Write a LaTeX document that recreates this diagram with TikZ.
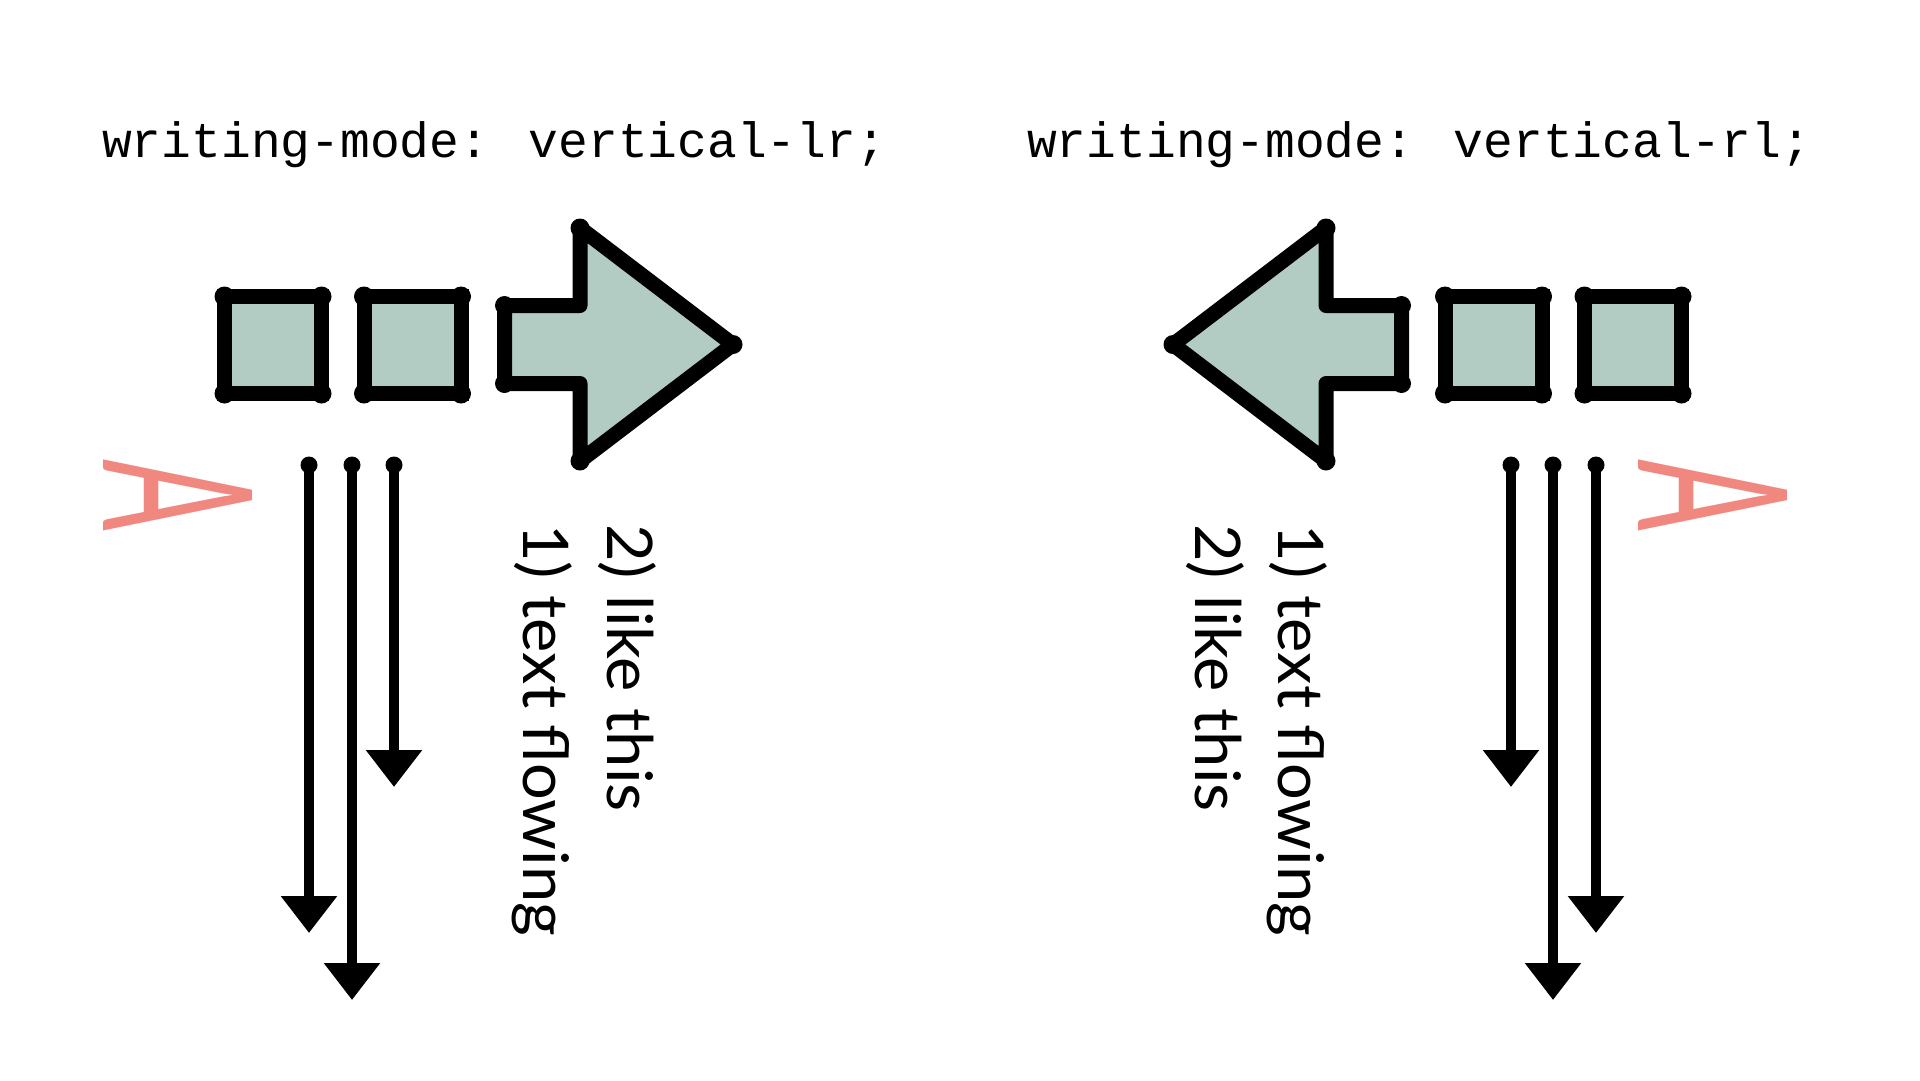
\documentclass[tikz,border=0pt]{standalone}
\usepackage{fontspec}
\setmainfont{Lato}
\newfontfamily\monofont{Liberation Mono}
\usetikzlibrary{arrows.meta}
\definecolor{sage}{RGB}{179,204,195}
\definecolor{salmon}{RGB}{240,136,128}
\begin{document}
\begin{tikzpicture}[x=1pt,y=-1pt,
  box/.style={draw=black, fill=sage, line width=15pt, minimum width=97pt, minimum height=97pt, inner sep=0pt, outer sep=0pt},
  bigarrow/.style={draw=black, fill=sage, line width=15pt, line join=round},
  flow/.style={line width=10pt, -{Triangle[width=54pt,length=37pt]}},
  header/.style={font=\monofont\fontsize{49.6}{60}\selectfont, anchor=base west, inner sep=0pt},
  vtext/.style={font=\fontsize{63}{74}\selectfont, rotate=-90, anchor=base west, inner sep=0pt},
  glyphA/.style={font=\fontsize{208}{240}\selectfont, text=salmon, rotate=-90, inner sep=0pt}
]
\useasboundingbox (0,0) rectangle (1920,1080);

% headers
\node[header] (hl) at (102,157) {writing-mode: vertical-lr;};
\node[header] (hr) at (1027,157) {writing-mode: vertical-rl;};

% left squares
\node[box] (sqA) at (273,345) {};
\node[box] (sqB) at (412.5,345) {};
% right squares
\node[box] (sqC) at (1493.5,345) {};
\node[box] (sqD) at (1633,345) {};
\foreach \s in {sqA,sqB,sqC,sqD}{
  \foreach \a in {north west,north east,south west,south east}{
    \fill (\s.\a) circle[radius=10];
  }
}

% left big arrow
\coordinate (l1) at (504.5,305.5);
\coordinate (l2) at (580,305.5);
\coordinate (l3) at (580,228);
\coordinate (l4) at (733,344.5);
\coordinate (l5) at (580,461);
\coordinate (l6) at (580,383.5);
\coordinate (l7) at (504.5,383.5);
\draw[bigarrow] (l1) -- (l2) -- (l3) -- (l4) -- (l5) -- (l6) -- (l7) -- cycle;
% right big arrow
\coordinate (r1) at (1401.5,305.5);
\coordinate (r2) at (1326,305.5);
\coordinate (r3) at (1326,228);
\coordinate (r4) at (1173,344.5);
\coordinate (r5) at (1326,461);
\coordinate (r6) at (1326,383.5);
\coordinate (r7) at (1401.5,383.5);
\draw[bigarrow] (r1) -- (r2) -- (r3) -- (r4) -- (r5) -- (r6) -- (r7) -- cycle;
\foreach \p in {l1,l3,l4,l5,l7,r1,r3,r4,r5,r7}{\fill (\p) circle[radius=9.5];}

% left flow arrows
\coordinate (a1s) at (309,465); \coordinate (a1e) at (309,933);
\coordinate (a2s) at (352,465); \coordinate (a2e) at (352,1000);
\coordinate (a3s) at (394,465); \coordinate (a3e) at (394,787);
% right flow arrows
\coordinate (b1s) at (1511,465); \coordinate (b1e) at (1511,787);
\coordinate (b2s) at (1553,465); \coordinate (b2e) at (1553,1000);
\coordinate (b3s) at (1596,465); \coordinate (b3e) at (1596,933);
\foreach \n in {a1,a2,a3,b1,b2,b3}{
  \draw[flow] (\n s) -- (\n e);
  \fill (\n s) circle[radius=8.5];
}

% rotated glyphs
\node[glyphA] (gl) at (178.5,495) {\scalebox{0.51}[1]{A}};
\node[glyphA] (gr) at (1713,495) {\scalebox{0.51}[1]{A}};

% vertical texts
\node[vtext] (tl1) at (523,524) {\scalebox{1.03}[1]{1) text flowing}};
\node[vtext] (tl2) at (607,524) {\scalebox{1.03}[1]{2) like this}};
\node[vtext] (tr1) at (1278,524) {\scalebox{1.03}[1]{1) text flowing}};
\node[vtext] (tr2) at (1195,524) {\scalebox{1.03}[1]{2) like this}};
\end{tikzpicture}
\end{document}
